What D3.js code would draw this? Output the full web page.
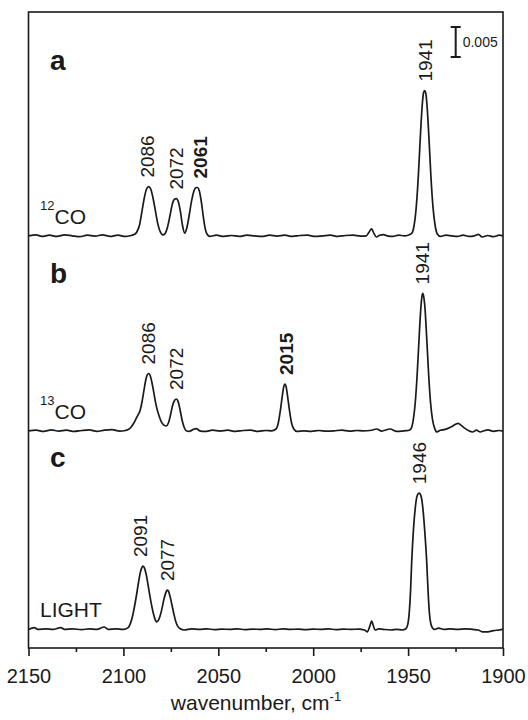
<!DOCTYPE html>
<html>
<head>
<meta charset="utf-8">
<script src="https://cdn.jsdelivr.net/npm/d3@7"></script>
<style>
body { margin: 0; background: #fff; }
svg { display: block; font-family: "Liberation Sans", Arial, sans-serif; }
</style>
</head>
<body>
<svg id="chart" width="528" height="720"></svg>
<script>
// wavenumber axis (cm-1), drawn high -> low
var xDomain = [2150, 1900];
var xTicks = [2150, 2100, 2050, 2000, 1950, 1900];
var xMinorTicks = [2125, 2075, 2025, 1975, 1925];

// absorbance in mOD (1e-3), traces stacked by offset
var yMax = 106;
var offsets = [68.7, 36.2, 3.1];
var scaleBarValue = 5; // mOD -> "0.005"

var panels = ["a", "b", "c"];
var species = [
	{ sup: "12", main: "CO" },
	{ sup: "13", main: "CO" },
	{ sup: "", main: "LIGHT" }
];

// [wavenumber, mOD]
var specA = [
	[2150, 0.0], [2146, 0.15], [2143, -0.1], [2139, 0.1], [2135, -0.1], [2131, 0.15], [2127, 0.0], [2123, -0.15],
	[2119, 0.1], [2115, -0.05], [2111, 0.15], [2107, -0.1], [2103, 0.1], [2099, -0.1], [2096, 0.05],
	[2094.4, 0.2], [2093, 0.6], [2091.5, 1.8], [2090.2, 4.1], [2089, 6.3], [2087.8, 7.8], [2086.7, 8.2], [2085.6, 7.8],
	[2084.4, 6.3], [2083.1, 4.1], [2081.8, 1.9], [2080.5, 0.6], [2079.2, 0.15],
	[2078, 0.4], [2076.8, 1.4], [2075.5, 3.3], [2074.3, 5.2], [2073.1, 6.1], [2072.1, 6.2], [2071.1, 5.7], [2070, 4.1],
	[2068.9, 1.8], [2067.7, 0.45],
	[2066.6, 1.3], [2065.4, 3.3], [2064.2, 5.6], [2063, 7.3], [2061.9, 8.0], [2061, 8.05], [2060.1, 7.6], [2059, 5.8],
	[2057.9, 3.2], [2056.9, 1.2], [2055.8, 0.2], [2054.5, -0.1],
	[2051, 0.1], [2047, -0.1], [2043, 0.05], [2039, -0.1], [2035, 0.1], [2031, 0.0], [2027, -0.1], [2023, 0.1],
	[2019, -0.05], [2015, 0.1], [2011, -0.1], [2007, 0.05], [2003, 0.1], [1999, -0.1], [1995, 0.0], [1991, 0.1],
	[1987, -0.1], [1983, 0.05], [1979, 0.1], [1975, -0.05],
	[1972, 0.0], [1970.6, 0.6], [1969.2, 1.15], [1968, 0.4], [1966.7, -0.2], [1965, 0.1], [1963, 0.2], [1961, 0.0],
	[1958, -0.1], [1955, 0.1], [1952, 0.0], [1950, 0.1],
	[1948.1, 0.4], [1946.8, 1.8], [1945.6, 5.2], [1944.6, 10.0], [1943.6, 16.2], [1942.6, 21.6], [1941.9, 23.8],
	[1941.3, 24.2], [1940.7, 23.8], [1940, 21.6], [1939, 16.2], [1938, 10.0], [1937, 5.2], [1935.8, 1.8], [1934.6, 0.3],
	[1933, -0.1], [1930, 0.1], [1927, 0.0], [1924, -0.1], [1921, 0.1], [1918, -0.1], [1915, 0.0], [1913, 0.25],
	[1911, -0.2], [1908, 0.05], [1905, -0.15], [1902, 0.1], [1900, 0.0]
];

var specB = [
	[2150, 0.0], [2146, 0.1], [2142, -0.1], [2138, 0.15], [2134, -0.05], [2130, 0.1], [2126, -0.1], [2122, 0.05],
	[2118, 0.15], [2114, -0.1], [2110, 0.1], [2106, 0.2], [2102, -0.05], [2099, 0.05],
	[2097.5, 0.2], [2096, 0.6], [2094.5, 1.3], [2093.2, 2.1], [2092.2, 2.7], [2091.2, 3.4], [2090.2, 4.8], [2089.2, 6.7],
	[2088.2, 8.5], [2087.4, 9.35], [2086.7, 9.55], [2086, 9.3], [2085, 8.1], [2084, 6.4], [2083, 4.6], [2082, 3.3],
	[2081, 2.3], [2080, 1.5], [2078.7, 0.95], [2077.4, 0.8],
	[2076.3, 1.3], [2075.2, 2.6], [2074.1, 4.2], [2073, 5.1], [2072.1, 5.3], [2071.2, 4.9], [2070.2, 3.6], [2069.1, 1.8],
	[2068, 0.6], [2066.9, 0.0], [2065.3, -0.1], [2063.4, 0.2], [2061.6, 0.35], [2059.8, 0.0],
	[2057, -0.1], [2053, 0.1], [2049, -0.05], [2045, 0.1], [2041, -0.1], [2037, 0.05], [2033, 0.1], [2029, -0.1],
	[2025, 0.05], [2022, 0.0],
	[2019.6, 0.3], [2018.4, 1.3], [2017.3, 3.4], [2016.2, 6.0], [2015.5, 7.4], [2014.9, 7.8], [2014.3, 7.4], [2013.6, 6.0],
	[2012.5, 3.4], [2011.4, 1.3], [2010.2, 0.3], [2008.6, -0.1],
	[2005, 0.0], [2001, -0.1], [1997, 0.05], [1993, -0.05], [1989, 0.0], [1985, 0.1], [1981, -0.05], [1977, 0.05],
	[1974, 0.0], [1970, 0.05], [1966.5, 0.3], [1964, -0.05], [1959.5, 0.3], [1956, -0.1], [1952, 0.0], [1950, 0.05],
	[1948.4, 0.4], [1947.2, 2.0], [1946.2, 4.8], [1945.2, 9.5], [1944.2, 15.5], [1943.3, 20.4], [1942.7, 22.4],
	[1942.3, 22.9], [1941.8, 22.4], [1941.1, 20.4], [1940.2, 15.5], [1939.2, 9.5], [1938.2, 4.8], [1937.2, 2.0], [1936, 0.4],
	[1934.8, -0.2], [1933, 0.1], [1931, 0.2], [1929, 0.4], [1927, 0.7], [1925, 1.1], [1923.6, 1.25], [1922, 0.9],
	[1920, 0.4], [1918, 0.0], [1916, -0.2], [1914, 0.1], [1912, -0.2], [1910, 0.0], [1908, 0.15], [1905, -0.1],
	[1902, 0.05], [1900, -0.05]
];

var specC = [
	[2150, 0.0], [2147, 0.3], [2145, 0.0], [2141, 0.1], [2137, 0.0], [2133, 0.3], [2131, 0.0], [2127, 0.1],
	[2122, -0.05], [2118, 0.1], [2114, 0.0], [2110.2, 0.4], [2108, 0.0], [2104, 0.1], [2100, 0.0],
	[2097.5, 0.3], [2096.3, 1.0], [2095.2, 2.2], [2094.1, 3.9], [2093, 5.9], [2092, 7.9], [2091, 9.6], [2090.3, 10.3],
	[2089.7, 10.55], [2089, 10.3], [2088, 9.2], [2087, 7.4], [2086, 5.5], [2085, 3.8], [2084, 2.4], [2083.1, 1.5],
	[2082.5, 1.27],
	[2081.8, 1.4], [2080.8, 2.1], [2079.8, 3.3], [2078.8, 4.8], [2077.8, 6.0], [2077.2, 6.45], [2076.9, 6.55],
	[2076.3, 6.4], [2075.5, 5.6], [2074.5, 4.2], [2073.5, 2.7], [2072.5, 1.4], [2071.5, 0.6], [2070, 0.1], [2068, -0.1],
	[2064, 0.1], [2060, 0.0], [2056, 0.1], [2052, -0.05], [2048, 0.05], [2044, 0.0], [2040, 0.1], [2036, -0.05],
	[2032, 0.05], [2028, 0.0], [2024, 0.1], [2020, -0.05], [2016, 0.1], [2012, 0.0], [2008, 0.05], [2004, -0.05],
	[2000, 0.05], [1996, 0.0], [1992, 0.1], [1988, -0.05], [1984, 0.05], [1980, 0.0], [1976, 0.05], [1973, -0.1],
	[1971.5, -0.4], [1970.2, 0.5], [1969.2, 1.4], [1968.3, 0.6], [1967.4, -0.1], [1965.5, 0.1], [1963, 0.0],
	[1959, -0.1], [1956, 0.0], [1953, -0.1], [1951.2, 0.1],
	[1950.2, 0.8], [1949.4, 2.8], [1948.7, 6.5], [1948.1, 11.3], [1947.3, 16.0], [1946.3, 20.0], [1945.3, 22.2],
	[1944.2, 22.7], [1943.1, 22.1], [1942.1, 19.8], [1941.1, 15.8], [1940.2, 11.3], [1939.5, 6.5], [1938.8, 2.8],
	[1938, 0.9], [1937, 0.2], [1936, 0.0],
	[1934, 0.2], [1931, 0.0], [1928, 0.1], [1924, 0.0], [1920, 0.1], [1916, 0.0], [1913, -0.1], [1911, -0.4],
	[1908, -0.4], [1905, -0.2], [1902, -0.1], [1900, 0.0]
];
var spectra = [specA, specB, specC];

// peak annotations: text, wavenumber where the label sits, bold?
var peaksA = [["2086", 2087.6, false], ["2072", 2072.5, false], ["2061", 2059.4, true], ["1941", 1941.3, false]];
var peaksB = [["2086", 2087.3, false], ["2072", 2072.3, false], ["2015", 2014.3, true], ["1941", 1942.9, false]];
var peaksC = [["2091", 2091.0, false], ["2077", 2077.0, false], ["1946", 1944.0, false]];
var peakLabels = [peaksA, peaksB, peaksC];

// ---- layout ----
var plotL = 28.5, plotR = 503, plotT = 12, plotB = 648;
var letterY = [70, 283, 467];
var ink = "#1a1a1a";

var svg = d3.select("#chart");

var x = d3.scaleLinear().domain(xDomain).range([plotL, plotR]);
var y = d3.scaleLinear().domain([0, yMax]).range([plotB, plotT]);

// frame
svg.append("rect")
	.attr("x", plotL).attr("y", plotT)
	.attr("width", plotR - plotL).attr("height", plotB - plotT)
	.attr("fill", "none").attr("stroke", ink).attr("stroke-width", 1.6);

// bottom axis, major + minor ticks
var axisMinor = svg.append("g").attr("transform", "translate(0," + plotB + ")")
	.call(d3.axisBottom(x).tickValues(xMinorTicks).tickSize(4).tickFormat(""));
var axisMajor = svg.append("g").attr("transform", "translate(0," + plotB + ")")
	.call(d3.axisBottom(x).tickValues(xTicks).tickSize(8).tickPadding(12.5).tickFormat(d3.format("d")));

[axisMinor, axisMajor].forEach(function(g)
{
	g.select(".domain").remove();
	g.selectAll(".tick line").attr("stroke", ink).attr("stroke-width", 1.6);
});
axisMajor.selectAll(".tick text")
	.attr("fill", ink)
	.style("font-family", "'Liberation Sans', Arial, sans-serif")
	.style("font-size", "20px");

// axis title
var title = svg.append("text")
	.attr("x", 256).attr("y", 710)
	.attr("text-anchor", "middle")
	.attr("fill", ink)
	.style("font-size", "21px");
title.append("tspan").text("wavenumber, cm");
title.append("tspan").attr("dy", -9).style("font-size", "13px").text("-1");

// traces
spectra.forEach(function(spec, i)
{
	var off = offsets[i];
	var line = d3.line()
		.x(function(d) { return x(d[0]); })
		.y(function(d) { return y(d[1] + off); })
		.curve(d3.curveMonotoneX);

	svg.append("path")
		.datum(spec)
		.attr("d", line)
		.attr("fill", "none")
		.attr("stroke", ink)
		.attr("stroke-width", 1.7)
		.attr("stroke-linejoin", "round");

	// panel letter
	svg.append("text")
		.attr("x", 50).attr("y", letterY[i])
		.attr("fill", ink)
		.style("font-size", "28px")
		.style("font-weight", "bold")
		.text(panels[i]);

	// species label just above the baseline
	var sp = svg.append("text")
		.attr("x", 40).attr("y", y(off) - 12)
		.attr("fill", ink)
		.style("font-size", "21px");
	if (species[i].sup)
	{
		sp.append("tspan").attr("dy", -14).style("font-size", "13px").text(species[i].sup);
		sp.append("tspan").attr("dy", 14).text(species[i].main);
	}
	else
	{
		sp.append("tspan").text(species[i].main);
	}

	// rotated peak labels, sitting a few px over the local maximum
	peakLabels[i].forEach(function(p)
	{
		var near = spec.filter(function(d) { return Math.abs(d[0] - p[1]) <= 3; });
		var peakTop = d3.max(near, function(d) { return d[1]; });
		var px = x(p[1]) + 7;
		var py = y(peakTop + off) - 9;
		svg.append("text")
			.attr("transform", "translate(" + px + "," + py + ") rotate(-90)")
			.attr("fill", ink)
			.style("font-size", "19px")
			.style("font-weight", p[2] ? "bold" : "normal")
			.text(p[0]);
	});
});

// absorbance scale bar
var barX = 455.7, barTop = 27;
var barLen = y(0) - y(scaleBarValue);
var bar = svg.append("g").attr("stroke", ink).attr("stroke-width", 2);
bar.append("line").attr("x1", barX).attr("x2", barX).attr("y1", barTop).attr("y2", barTop + barLen);
bar.append("line").attr("x1", barX - 5).attr("x2", barX + 5).attr("y1", barTop).attr("y2", barTop);
bar.append("line").attr("x1", barX - 5).attr("x2", barX + 5).attr("y1", barTop + barLen).attr("y2", barTop + barLen);
svg.append("text")
	.attr("x", barX + 7).attr("y", barTop + barLen / 2 + 5)
	.attr("fill", ink)
	.style("font-size", "14px")
	.text(d3.format(".3f")(scaleBarValue / 1000));
</script>
</body>
</html>
